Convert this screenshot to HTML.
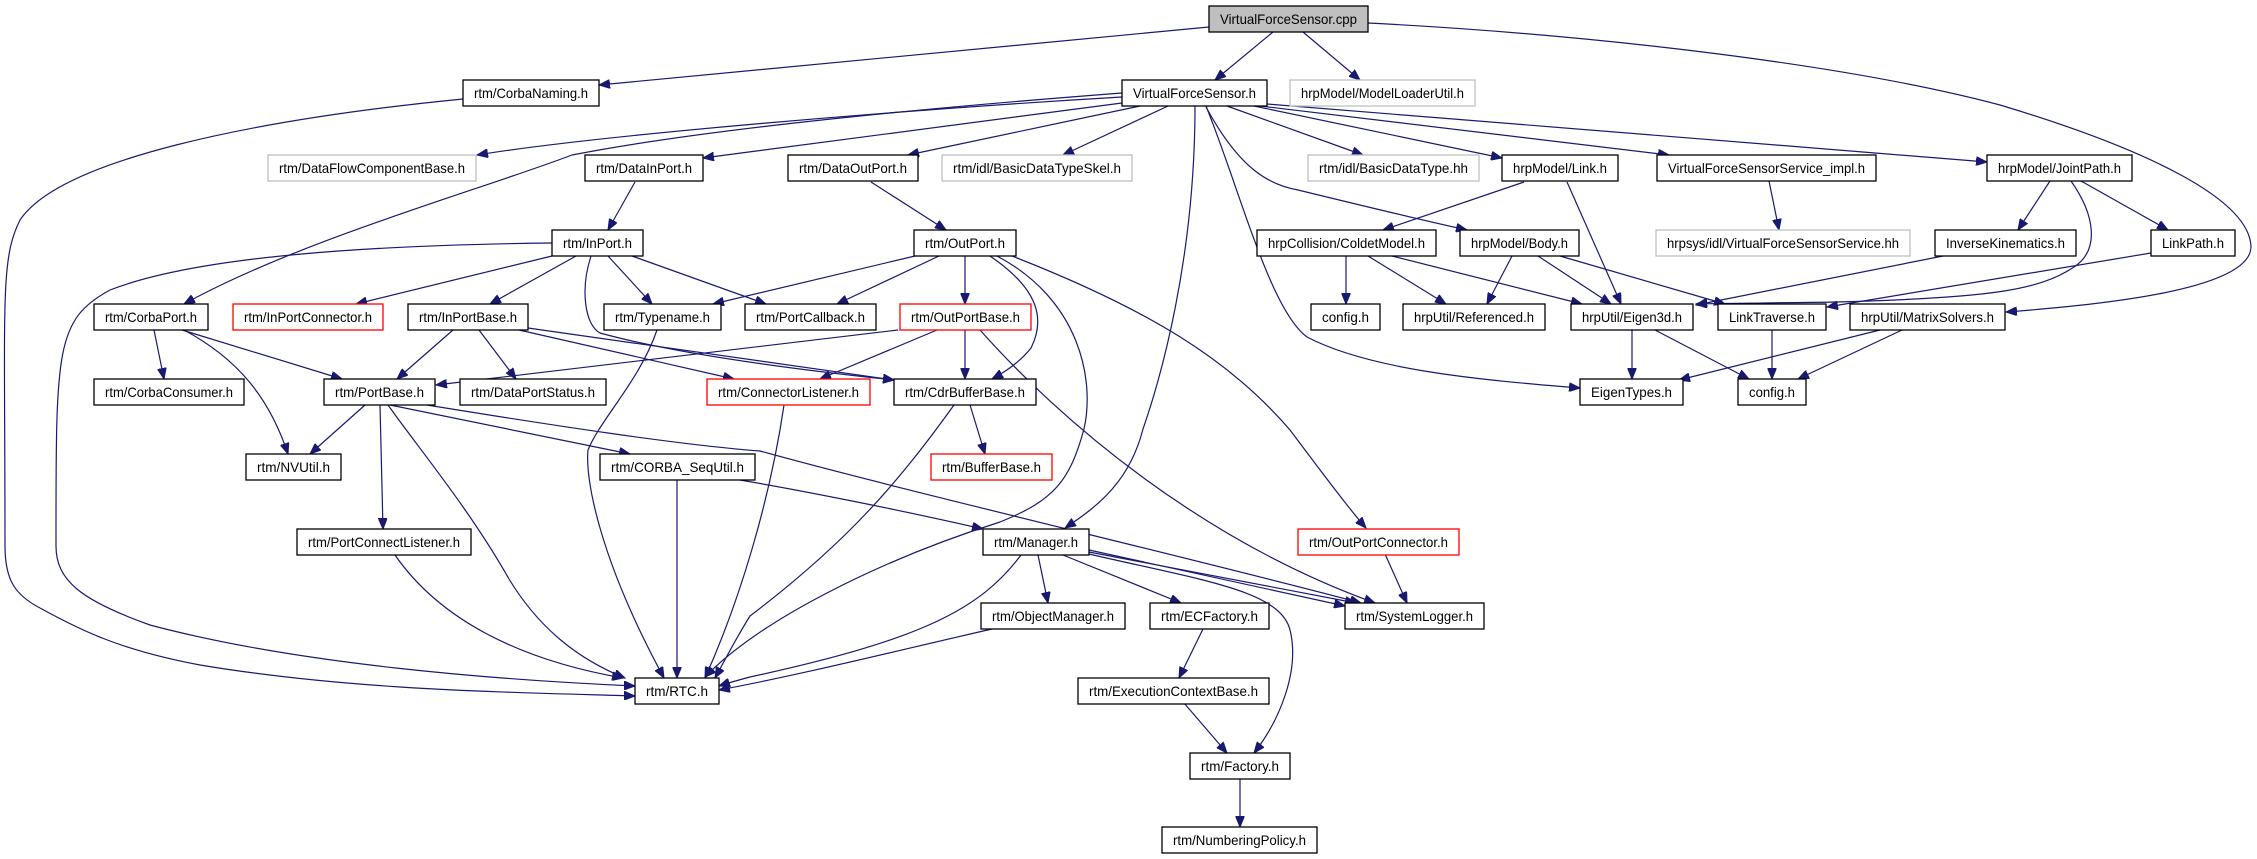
<!DOCTYPE html>
<html><head><meta charset="utf-8"><style>
html,body{margin:0;padding:0;background:#fff}
svg{display:block}
text{font-family:"Liberation Sans",sans-serif;font-size:14px;fill:#000}
.n{fill:#fff;stroke:#000;stroke-width:1.3}
.g{fill:#fff;stroke:#bfbfbf;stroke-width:1.3}
.r{fill:#fff;stroke:#ff0000;stroke-width:1.3}
.e path,.e polyline{fill:none;stroke:#191970;stroke-width:1.2;marker-end:url(#a);stroke-linejoin:round}
</style></head><body>
<svg width="2257" height="859" viewBox="0 0 2257 859" xmlns="http://www.w3.org/2000/svg">
<defs><marker id="a" markerUnits="userSpaceOnUse" markerWidth="12" markerHeight="9" refX="11" refY="4.5" orient="auto"><path d="M0,0 L11,4.5 L0,9 z" fill="#191970" stroke="#191970"/></marker></defs>
<g class="e">
<path d="M1209,27 L599,85"/>
<path d="M1273,32 L1215,80"/>
<path d="M1303,32 L1360,80"/>
<path d="M1368,23 C1600,35 1850,65 2000,105 C2150,150 2250,200 2251,247 C2250,290 2100,305 2006,312"/>
<path d="M1122,97 C900,110 600,135 477,155"/>
<path d="M1122,93 C900,110 700,130 572,155 C480,190 300,240 184,304"/>
<path d="M1122,103 L703,158"/>
<path d="M1140,106 L908,155"/>
<path d="M1168,106 L1063,155"/>
<path d="M1195,106 C1195,260 1160,380 1143,429 C1130,480 1100,505 1065,528"/>
<path d="M1206,106 C1240,190 1270,310 1307,337 C1370,370 1480,380 1580,388"/>
<path d="M1206,107 C1240,170 1270,185 1298,190 C1380,210 1430,222 1467,230"/>
<path d="M1227,106 L1363,155"/>
<path d="M1254,106 L1502,158"/>
<path d="M1260,106 L1669,155"/>
<path d="M1267,104 L1987,162"/>
<path d="M463,99 C250,120 60,160 20,220 C0,260 5,300 5,546 C5,580 15,595 40,608 C80,630 120,650 200,665 C350,690 500,692 635,696"/>
<path d="M635,182 L608,230"/>
<path d="M871,182 L946,230"/>
<path d="M552,243 C380,245 200,255 110,290 C55,320 56,350 56,546 C56,580 80,600 150,625 C300,665 500,680 635,686"/>
<path d="M552,256 L356,304"/>
<path d="M576,256 L490,304"/>
<path d="M608,256 L652,304"/>
<path d="M632,256 L766,304"/>
<path d="M591,256 C580,290 585,325 600,333 C680,355 800,370 894,380"/>
<path d="M915,256 L713,304"/>
<path d="M939,256 L837,304"/>
<path d="M965,256 L965,304"/>
<path d="M990,256 C1040,290 1045,320 1031,348 C1020,362 1005,372 992,379"/>
<path d="M997,256 C1080,300 1095,380 1084,429 C1070,480 1055,500 1000,522 C880,560 760,620 705,677"/>
<path d="M1012,256 C1150,310 1230,360 1290,430 C1320,470 1350,510 1366,528"/>
<path d="M453,330 L397,379"/>
<path d="M479,330 L516,379"/>
<path d="M519,330 L734,379"/>
<path d="M528,328 L894,380"/>
<path d="M154,330 L164,379"/>
<path d="M182,330 L342,379"/>
<path d="M184,330 C240,360 270,400 288,454"/>
<path d="M657,330 C640,380 600,420 588,450 C585,480 600,560 664,678"/>
<path d="M898,330 L436,385"/>
<path d="M937,330 L820,379"/>
<path d="M965,330 L965,379"/>
<path d="M980,330 C1060,420 1200,540 1375,603"/>
<path d="M365,405 L310,454"/>
<path d="M380,405 L383,529"/>
<path d="M390,405 L630,454"/>
<path d="M388,405 C420,450 470,510 509,579 C540,630 580,660 625,678"/>
<path d="M427,405 C550,425 680,445 760,451 C900,490 1200,560 1361,603"/>
<path d="M784,405 C770,500 740,600 705,678"/>
<path d="M954,405 C900,480 850,540 750,616 C735,640 725,660 715,678"/>
<path d="M970,405 L985,454"/>
<path d="M677,480 L677,678"/>
<path d="M734,479 C800,490 900,510 983,529"/>
<path d="M395,555 C440,620 520,660 623,678"/>
<path d="M1021,555 C980,610 920,640 750,677 C735,681 725,684 719,686"/>
<path d="M1038,555 L1048,603"/>
<path d="M1063,555 L1181,603"/>
<path d="M1089,552 L1356,603"/>
<path d="M1089,550 L1345,606"/>
<path d="M1089,554 C1200,580 1280,590 1290,630 C1300,670 1280,720 1254,753"/>
<path d="M992,629 C900,650 800,675 719,690"/>
<path d="M1203,629 L1179,678"/>
<path d="M1184,703 L1227,753"/>
<path d="M1240,778 L1240,827"/>
<path d="M1385,554 L1407,603"/>
<path d="M1524,182 L1383,230"/>
<path d="M1567,182 L1621,304"/>
<path d="M1346,256 L1346,304"/>
<path d="M1368,256 L1446,304"/>
<path d="M1392,256 L1582,304"/>
<path d="M1512,256 L1487,304"/>
<path d="M1538,256 L1611,304"/>
<path d="M1560,256 L1725,304"/>
<path d="M1769,181 L1779,230"/>
<path d="M2050,181 L2018,230"/>
<path d="M2081,181 L2168,230"/>
<path d="M2071,181 C2095,215 2100,250 2074,267 C2040,290 1990,298 1836,302 C1780,303 1730,303 1696,304"/>
<path d="M1943,256 L1696,305"/>
<path d="M2151,253 L1827,307"/>
<path d="M1632,330 L1632,379"/>
<path d="M1655,330 L1749,379"/>
<path d="M1772,330 L1772,379"/>
<path d="M1880,330 L1679,380"/>
<path d="M1902,330 L1798,379"/>
</g>
<g text-anchor="middle">
<rect x="1209" y="6" width="159" height="26" style="fill:#bfbfbf;stroke:#000;stroke-width:1.3"/><text x="1288.5" y="24" textLength="137" lengthAdjust="spacingAndGlyphs">VirtualForceSensor.cpp</text>
<rect class="n" x="463" y="80" width="136" height="26"/><text x="531" y="98" textLength="114" lengthAdjust="spacingAndGlyphs">rtm/CorbaNaming.h</text>
<rect class="n" x="1122" y="80" width="145" height="26"/><text x="1194.5" y="98" textLength="123" lengthAdjust="spacingAndGlyphs">VirtualForceSensor.h</text>
<rect class="g" x="1290" y="80" width="185" height="26"/><text x="1382.5" y="98" textLength="163" lengthAdjust="spacingAndGlyphs">hrpModel/ModelLoaderUtil.h</text>
<rect class="g" x="268" y="155" width="208" height="26"/><text x="372" y="173" textLength="186" lengthAdjust="spacingAndGlyphs">rtm/DataFlowComponentBase.h</text>
<rect class="n" x="585" y="155" width="118" height="26"/><text x="644" y="173" textLength="96" lengthAdjust="spacingAndGlyphs">rtm/DataInPort.h</text>
<rect class="n" x="788" y="155" width="130" height="26"/><text x="853" y="173" textLength="108" lengthAdjust="spacingAndGlyphs">rtm/DataOutPort.h</text>
<rect class="g" x="942" y="155" width="190" height="26"/><text x="1037" y="173" textLength="168" lengthAdjust="spacingAndGlyphs">rtm/idl/BasicDataTypeSkel.h</text>
<rect class="g" x="1308" y="155" width="171" height="26"/><text x="1393.5" y="173" textLength="149" lengthAdjust="spacingAndGlyphs">rtm/idl/BasicDataType.hh</text>
<rect class="n" x="1502" y="155" width="116" height="26"/><text x="1560" y="173" textLength="94" lengthAdjust="spacingAndGlyphs">hrpModel/Link.h</text>
<rect class="n" x="1657" y="155" width="219" height="26"/><text x="1766.5" y="173" textLength="197" lengthAdjust="spacingAndGlyphs">VirtualForceSensorService_impl.h</text>
<rect class="n" x="1987" y="155" width="145" height="26"/><text x="2059.5" y="173" textLength="123" lengthAdjust="spacingAndGlyphs">hrpModel/JointPath.h</text>
<rect class="n" x="552" y="230" width="91" height="26"/><text x="597.5" y="248" textLength="69" lengthAdjust="spacingAndGlyphs">rtm/InPort.h</text>
<rect class="n" x="914" y="230" width="102" height="26"/><text x="965" y="248" textLength="80" lengthAdjust="spacingAndGlyphs">rtm/OutPort.h</text>
<rect class="n" x="1257" y="230" width="179" height="26"/><text x="1346.5" y="248" textLength="157" lengthAdjust="spacingAndGlyphs">hrpCollision/ColdetModel.h</text>
<rect class="n" x="1460" y="230" width="119" height="26"/><text x="1519.5" y="248" textLength="97" lengthAdjust="spacingAndGlyphs">hrpModel/Body.h</text>
<rect class="g" x="1656" y="230" width="254" height="26"/><text x="1783" y="248" textLength="232" lengthAdjust="spacingAndGlyphs">hrpsys/idl/VirtualForceSensorService.hh</text>
<rect class="n" x="1935" y="230" width="141" height="26"/><text x="2005.5" y="248" textLength="119" lengthAdjust="spacingAndGlyphs">InverseKinematics.h</text>
<rect class="n" x="2151" y="230" width="84" height="26"/><text x="2193" y="248" textLength="62" lengthAdjust="spacingAndGlyphs">LinkPath.h</text>
<rect class="n" x="94" y="304" width="114" height="26"/><text x="151" y="322" textLength="92" lengthAdjust="spacingAndGlyphs">rtm/CorbaPort.h</text>
<rect class="r" x="233" y="304" width="150" height="26"/><text x="308" y="322" textLength="128" lengthAdjust="spacingAndGlyphs">rtm/InPortConnector.h</text>
<rect class="n" x="408" y="304" width="120" height="26"/><text x="468" y="322" textLength="98" lengthAdjust="spacingAndGlyphs">rtm/InPortBase.h</text>
<rect class="n" x="604" y="304" width="117" height="26"/><text x="662.5" y="322" textLength="95" lengthAdjust="spacingAndGlyphs">rtm/Typename.h</text>
<rect class="n" x="745" y="304" width="131" height="26"/><text x="810.5" y="322" textLength="109" lengthAdjust="spacingAndGlyphs">rtm/PortCallback.h</text>
<rect class="r" x="900" y="304" width="131" height="26"/><text x="965.5" y="322" textLength="109" lengthAdjust="spacingAndGlyphs">rtm/OutPortBase.h</text>
<rect class="n" x="1311" y="304" width="69" height="26"/><text x="1345.5" y="322" textLength="47" lengthAdjust="spacingAndGlyphs">config.h</text>
<rect class="n" x="1403" y="304" width="142" height="26"/><text x="1474" y="322" textLength="120" lengthAdjust="spacingAndGlyphs">hrpUtil/Referenced.h</text>
<rect class="n" x="1571" y="304" width="122" height="26"/><text x="1632" y="322" textLength="100" lengthAdjust="spacingAndGlyphs">hrpUtil/Eigen3d.h</text>
<rect class="n" x="1718" y="304" width="108" height="26"/><text x="1772" y="322" textLength="86" lengthAdjust="spacingAndGlyphs">LinkTraverse.h</text>
<rect class="n" x="1850" y="304" width="155" height="26"/><text x="1927.5" y="322" textLength="133" lengthAdjust="spacingAndGlyphs">hrpUtil/MatrixSolvers.h</text>
<rect class="n" x="94" y="379" width="150" height="26"/><text x="169" y="397" textLength="128" lengthAdjust="spacingAndGlyphs">rtm/CorbaConsumer.h</text>
<rect class="n" x="324" y="379" width="111" height="26"/><text x="379.5" y="397" textLength="89" lengthAdjust="spacingAndGlyphs">rtm/PortBase.h</text>
<rect class="n" x="460" y="379" width="146" height="26"/><text x="533" y="397" textLength="124" lengthAdjust="spacingAndGlyphs">rtm/DataPortStatus.h</text>
<rect class="r" x="707" y="379" width="163" height="26"/><text x="788.5" y="397" textLength="141" lengthAdjust="spacingAndGlyphs">rtm/ConnectorListener.h</text>
<rect class="n" x="894" y="379" width="142" height="26"/><text x="965" y="397" textLength="120" lengthAdjust="spacingAndGlyphs">rtm/CdrBufferBase.h</text>
<rect class="n" x="1580" y="379" width="103" height="26"/><text x="1631.5" y="397" textLength="81" lengthAdjust="spacingAndGlyphs">EigenTypes.h</text>
<rect class="n" x="1738" y="379" width="68" height="26"/><text x="1772" y="397" textLength="46" lengthAdjust="spacingAndGlyphs">config.h</text>
<rect class="n" x="246" y="454" width="95" height="26"/><text x="293.5" y="472" textLength="73" lengthAdjust="spacingAndGlyphs">rtm/NVUtil.h</text>
<rect class="n" x="600" y="454" width="155" height="26"/><text x="677.5" y="472" textLength="133" lengthAdjust="spacingAndGlyphs">rtm/CORBA_SeqUtil.h</text>
<rect class="r" x="931" y="454" width="121" height="26"/><text x="991.5" y="472" textLength="99" lengthAdjust="spacingAndGlyphs">rtm/BufferBase.h</text>
<rect class="n" x="297" y="529" width="174" height="26"/><text x="384" y="547" textLength="152" lengthAdjust="spacingAndGlyphs">rtm/PortConnectListener.h</text>
<rect class="n" x="983" y="529" width="106" height="26"/><text x="1036" y="547" textLength="84" lengthAdjust="spacingAndGlyphs">rtm/Manager.h</text>
<rect class="r" x="1298" y="529" width="161" height="26"/><text x="1378.5" y="547" textLength="139" lengthAdjust="spacingAndGlyphs">rtm/OutPortConnector.h</text>
<rect class="n" x="981" y="603" width="144" height="26"/><text x="1053" y="621" textLength="122" lengthAdjust="spacingAndGlyphs">rtm/ObjectManager.h</text>
<rect class="n" x="1150" y="603" width="119" height="26"/><text x="1209.5" y="621" textLength="97" lengthAdjust="spacingAndGlyphs">rtm/ECFactory.h</text>
<rect class="n" x="1345" y="603" width="139" height="26"/><text x="1414.5" y="621" textLength="117" lengthAdjust="spacingAndGlyphs">rtm/SystemLogger.h</text>
<rect class="n" x="635" y="678" width="84" height="26"/><text x="677" y="696" textLength="62" lengthAdjust="spacingAndGlyphs">rtm/RTC.h</text>
<rect class="n" x="1078" y="678" width="191" height="26"/><text x="1173.5" y="696" textLength="169" lengthAdjust="spacingAndGlyphs">rtm/ExecutionContextBase.h</text>
<rect class="n" x="1190" y="753" width="100" height="26"/><text x="1240" y="771" textLength="78" lengthAdjust="spacingAndGlyphs">rtm/Factory.h</text>
<rect class="n" x="1162" y="827" width="155" height="26"/><text x="1239.5" y="845" textLength="133" lengthAdjust="spacingAndGlyphs">rtm/NumberingPolicy.h</text>
</g>
</svg>
</body></html>
